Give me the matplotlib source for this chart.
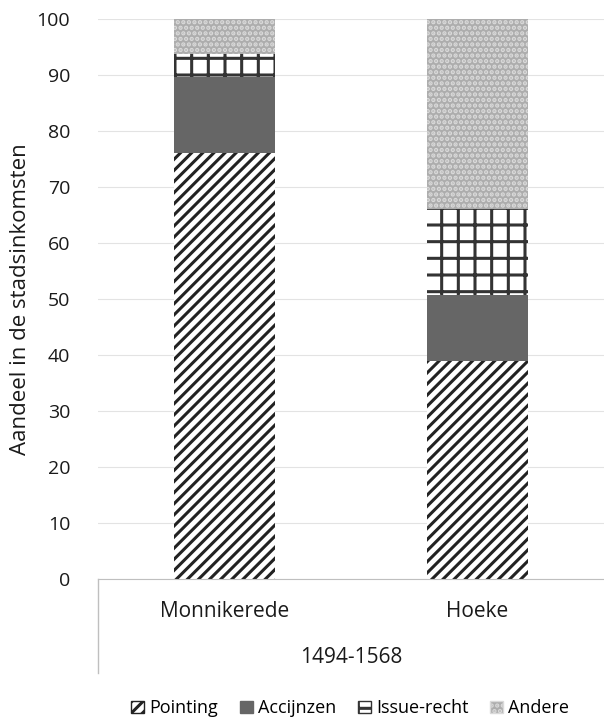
import numpy as np
import matplotlib.pyplot as plt
from matplotlib.patches import Patch

# share of city income per source, 1494-1568
places = ['Monnikerede', 'Hoeke']
pointing = [76.0, 39.0]
accijnzen = [13.6, 11.7]
issue = [4.2, 15.4]
andere = [6.2, 33.9]
period = '1494-1568'

plt.rcParams['font.family'] = ['Open Sans', 'DejaVu Sans']
plt.rcParams['hatch.linewidth'] = 2.2

fig = plt.figure(figsize=(6.04, 7.22), dpi=100)
ax = fig.add_axes([0.162, 0.198, 0.838, 0.776])

x = np.arange(len(places))
w = 0.4
bottom = np.zeros(len(places))
styles = [
    ('Pointing', pointing, dict(facecolor='white', edgecolor='#222222', hatch='///')),
    ('Accijnzen', accijnzen, dict(facecolor='#666666', edgecolor='#666666')),
    ('Issue-recht', issue, dict(facecolor='white', edgecolor='#333333', hatch='+')),
    ('Andere', andere, dict(facecolor='#adadad', edgecolor='#dadada', hatch='...')),
]
for name, vals, st in styles:
    ax.bar(x, vals, w, bottom=bottom, linewidth=0, label=name, **st)
    bottom += np.array(vals)

ax.set_xlim(-0.5, 1.5)
ax.set_ylim(0, 100)
ax.set_yticks(range(0, 101, 10))
ax.yaxis.grid(True, color='#e3e3e3', linewidth=0.8)
ax.set_axisbelow(True)
for s in ['top', 'right', 'left']:
    ax.spines[s].set_visible(False)
ax.spines['bottom'].set_color('#bfbfbf')
ax.tick_params(axis='y', length=0, labelsize=14, colors='#1a1a1a', pad=20)
ax.tick_params(axis='x', length=0, labelsize=15, colors='#1a1a1a', pad=16)
ax.set_xticks(x)
ax.set_xticklabels(places)
ax.set_ylabel('Aandeel in de stadsinkomsten', fontsize=16, color='#1a1a1a', labelpad=4)

# group label and divider line below the axis
ax.plot([-0.5, -0.5], [0, -16.8], color='#bfbfbf', linewidth=1, clip_on=False)
ax.text(0.5, -14, period, ha='center', va='center', fontsize=15, color='#1a1a1a')

handles = [Patch(label=n, **st) for n, _, st in styles]
fig.legend(handles=handles, loc='center', bbox_to_anchor=(0.58, 0.019), ncol=4,
           frameon=False, fontsize=13, handlelength=0.7, handleheight=0.7,
           handletextpad=0.3, columnspacing=1.2)

fig.savefig('out.png', dpi=100)
